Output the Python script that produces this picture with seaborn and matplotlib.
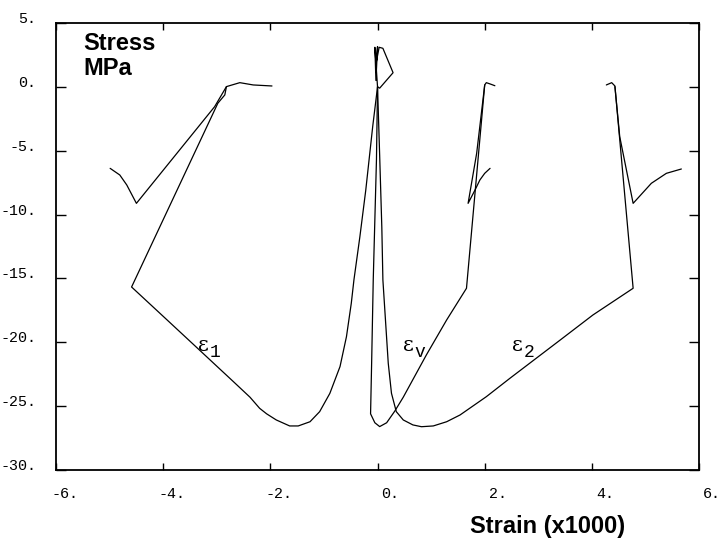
import matplotlib
matplotlib.use("Agg")
import matplotlib.pyplot as plt
import matplotlib.transforms as mtransforms
import pandas as pd
import seaborn as sns

# --- values (strain x1000, stress MPa) ---
# epsilon 1 : loading, softening, kink, unloading, small tail at zero
e1_x = [0.0, -0.09, -0.22, -0.33, -0.44, -0.49, -0.58, -0.70, -0.89, -1.08, -1.26,
        -1.48, -1.64, -1.89, -2.07, -2.20, -2.38, -2.69, -3.00, -3.44, -3.94, -4.59,
        -2.98, -2.85, -2.82, -2.57, -2.32, -1.97]
e1_y = [0.0, -3.1, -8.1, -11.75, -15.1, -16.95, -19.56, -21.9, -24.0, -25.43, -26.22,
        -26.55, -26.55, -26.08, -25.6, -25.17, -24.3, -23.08, -21.87, -20.15, -18.2, -15.67,
        -1.28, -0.63, 0.02, 0.33, 0.15, 0.07]
# epsilon 1 : second branch (V shape)
e1b_x = [-4.99, -4.81, -4.68, -4.50, -3.04, -2.82]
e1b_y = [-6.38, -6.9, -7.68, -9.12, -1.55, 0.02]

# volumetric strain
ev_x = [0.0, -0.02, -0.08, -0.11, -0.13, -0.05, 0.04, 0.17, 0.32, 0.48, 0.91,
        1.29, 1.66, 2.00, 2.03, 2.10, 2.19]
ev_y = [0.0, -5.7, -15.1, -21.6, -25.6, -26.3, -26.6, -26.3, -25.4, -24.3, -21.0,
        -18.25, -15.77, 0.15, 0.33, 0.23, 0.09]
evb_x = [2.10, 2.00, 1.91, 1.82, 1.69, 1.85, 2.00]
evb_y = [-6.38, -6.77, -7.29, -8.07, -9.12, -5.2, 0.15]

# epsilon 2
e2_x = [0.0, 0.04, 0.08, 0.10, 0.14, 0.20, 0.26, 0.35, 0.48, 0.66, 0.82, 1.04,
        1.29, 1.54, 2.03, 2.47, 3.40, 4.02, 4.77, 4.43, 4.37, 4.27]
e2_y = [0.0, -5.4, -11.0, -15.12, -17.73, -21.64, -23.99, -25.43, -26.08, -26.47,
        -26.61, -26.55, -26.22, -25.69, -24.26, -22.82, -19.85, -17.86, -15.77,
        0.07, 0.33, 0.15]
e2b_x = [5.67, 5.39, 5.11, 4.77, 4.52, 4.43]
e2b_y = [-6.43, -6.77, -7.55, -9.12, -3.9, 0.02]

# small spikes around the origin
spike_x = [0.0, -0.05, -0.03, 0.0, -0.02, 0.03, 0.10, 0.29, 0.04, 0.0]
spike_y = [0.0, 3.1, 0.5, 3.15, 2.0, 3.1, 3.02, 1.11, -0.1, 0.0]

eps_sub = ["1", "v", "2"]
eps_x = [-3.35, 0.47, 2.51]
eps_y = [-20.7, -20.7, -20.7]

x_ticks = [-6, -4, -2, 0, 2, 4, 6]
y_ticks = [5, 0, -5, -10, -15, -20, -25, -30]

paths = {
    "e1": (e1_x, e1_y), "e1b": (e1b_x, e1b_y),
    "ev": (ev_x, ev_y), "evb": (evb_x, evb_y),
    "e2": (e2_x, e2_y), "e2b": (e2b_x, e2b_y),
    "spike": (spike_x, spike_y),
}
rows = []
for name, (xs, ys) in paths.items():
    for i, (xv, yv) in enumerate(zip(xs, ys)):
        rows.append({"path": name, "order": i, "strain": xv, "stress": yv})
df = pd.DataFrame(rows)

sns.set_style("ticks")
plt.rcParams["font.family"] = ["Liberation Mono", "DejaVu Sans"]
plt.rcParams["text.color"] = "black"
plt.rcParams["axes.labelcolor"] = "black"

fig = plt.figure(figsize=(7.22, 5.39), dpi=100)
ax = fig.add_axes([0.0776, 0.128, 0.8906, 0.8293])

sns.lineplot(data=df, x="strain", y="stress", units="path", estimator=None,
             sort=False, color="black", linewidth=0.9, ax=ax, legend=False)

ax.set_xlim(-6, 6)
ax.set_ylim(-30, 5)
ax.set_xticks(x_ticks)
ax.set_xticklabels([f"{v}." for v in x_ticks])
ax.set_yticks(y_ticks)
ax.set_yticklabels([f"{v}." for v in y_ticks])

for sp in ax.spines.values():
    sp.set_linewidth(1.3)
    sp.set_color("black")

ax.tick_params(axis="x", direction="in", top=True, bottom=True, length=5, width=1,
               pad=12, labelsize=10.8, colors="black")
ax.tick_params(axis="y", direction="in", left=True, right=True, length=7, width=1,
               pad=14, labelsize=10.8, colors="black")

offset = mtransforms.ScaledTranslation(22 / 100, 0, fig.dpi_scale_trans)
for lab in ax.get_xticklabels():
    lab.set_ha("right")
    lab.set_transform(lab.get_transform() + offset)
for lab in ax.get_yticklabels():
    lab.set_va("baseline")

ax.set_ylabel("")
ax.set_xlabel("Strain (x1000)", fontsize=17, fontweight="bold", family="Liberation Sans")
ax.xaxis.set_label_coords(0.765, -0.101)

ax.text(0.042, 0.98, "Stress\nMPa", transform=ax.transAxes, ha="left", va="top",
        fontsize=17, fontweight="bold", family="Liberation Sans", linespacing=1.1)

for sub, xv, yv in zip(eps_sub, eps_x, eps_y):
    ax.text(xv, yv, "\u03b5", ha="left", va="baseline", fontsize=15,
            family="DejaVu Serif")
    ax.annotate(sub, xy=(xv, yv), xytext=(8.5, -4.3), textcoords="offset points",
                ha="left", va="baseline", fontsize=13, family="Liberation Mono")

fig.savefig("out.png", dpi=100)
